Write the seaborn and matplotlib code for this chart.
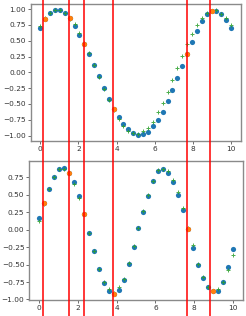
import numpy as np
import pandas as pd
import matplotlib
matplotlib.use("Agg")
import matplotlib.pyplot as plt
import matplotlib.transforms as mtransforms
from matplotlib.lines import Line2D
import seaborn as sns

# ---- data ----
x_vals = list(np.linspace(0, 10, 40))

top_blue = [0.695, 0.842, 0.932, 0.979, 0.979, 0.932, 0.853, 0.737, 0.595, 0.447,
            0.295, 0.121, -0.063, -0.253, -0.426, -0.584, -0.711, -0.816, -0.900, -0.958,
            -0.984, -0.968, -0.937, -0.853, -0.747, -0.621, -0.458, -0.284, -0.089, 0.105,
            0.295, 0.484, 0.653, 0.810, 0.921, 0.963, 0.968, 0.921, 0.832, 0.700]
top_green = [0.726, 0.860, 0.940, 0.985, 0.985, 0.940, 0.850, 0.758, 0.621, 0.470,
             0.300, 0.115, -0.080, -0.270, -0.440, -0.600, -0.742, -0.853, -0.926, -0.965,
             -0.975, -0.932, -0.874, -0.779, -0.632, -0.484, -0.305, -0.116, 0.074, 0.263,
             0.442, 0.600, 0.742, 0.853, 0.932, 0.974, 0.979, 0.930, 0.853, 0.747]

bot_blue = [0.173, 0.380, 0.590, 0.750, 0.865, 0.890, 0.817, 0.678, 0.486, 0.230,
            -0.048, -0.308, -0.558, -0.760, -0.875, -0.923, -0.870, -0.720, -0.490, -0.245,
            0.019, 0.260, 0.480, 0.692, 0.846, 0.865, 0.808, 0.683, 0.495, 0.279,
            0.010, -0.260, -0.510, -0.697, -0.827, -0.885, -0.875, -0.750, -0.538, -0.279]
bot_green = [0.125, 0.370, 0.590, 0.760, 0.875, 0.875, 0.820, 0.660, 0.450, 0.225,
             -0.050, -0.310, -0.560, -0.745, -0.856, -0.910, -0.827, -0.700, -0.480, -0.240,
             0.020, 0.265, 0.500, 0.700, 0.855, 0.875, 0.837, 0.716, 0.538, 0.308,
             0.030, -0.226, -0.486, -0.678, -0.817, -0.880, -0.851, -0.745, -0.577, -0.356]

highlight_idx = [1, 6, 9, 15, 30, 35]
vline_x = [0.16, 1.52, 2.31, 3.83, 7.70, 8.91]

top_yticks = [-1.00, -0.75, -0.50, -0.25, 0.00, 0.25, 0.50, 0.75, 1.00]
bot_yticks = [-1.00, -0.75, -0.50, -0.25, 0.00, 0.25, 0.50, 0.75]
xticks = [0, 2, 4, 6, 8, 10]

BLUE = "#1f77b4"
ORANGE = "#ff7f0e"
GREEN = "#2ca02c"

plt.rcParams["font.family"] = ["DejaVu Sans"]
plt.rcParams["font.size"] = 5.3

fig = plt.figure(figsize=(2.46, 3.16), dpi=100)
ax1 = fig.add_axes([0.1248, 0.5538, 0.8537, 0.4335])
ax2 = fig.add_axes([0.1191, 0.0497, 0.8675, 0.4408])


def draw(ax, blue, green, yticks):
    df = pd.DataFrame({"x": x_vals, "blue": blue, "green": green})
    hi = df.iloc[highlight_idx]
    sns.scatterplot(data=df, x="x", y="blue", ax=ax, color=BLUE, s=14,
                    linewidth=0, zorder=2)
    sns.scatterplot(data=df, x="x", y="green", ax=ax, color=GREEN, marker="+",
                    s=10, linewidth=0.7, alpha=0.85, zorder=3)
    sns.scatterplot(data=hi, x="x", y="blue", ax=ax, color=ORANGE, s=14,
                    linewidth=0, zorder=4)
    ax.set_xlabel("")
    ax.set_ylabel("")
    ax.set_xticks(xticks)
    ax.set_yticks(yticks)
    ax.tick_params(labelsize=5.3, length=2, width=0.6, colors="#555555",
                   labelcolor="#333333", pad=1.5)
    for sp in ax.spines.values():
        sp.set_color("#8a8a8a")
        sp.set_linewidth(1.0)


draw(ax1, top_blue, top_green, top_yticks)
draw(ax2, bot_blue, bot_green, bot_yticks)
ax1.set_xlim(-0.5, 10.5)
ax2.set_xlim(-0.5, 10.5)
ax1.set_ylim(-1.085, 1.08)
ax2.set_ylim(-1.012, 0.985)

trans = mtransforms.blended_transform_factory(ax1.transData, fig.transFigure)
for xv in vline_x:
    fig.add_artist(Line2D([xv, xv], [0, 1], transform=trans, color="#ff0000",
                          linewidth=1.1, zorder=10))

fig.savefig("out.png", dpi=100)
